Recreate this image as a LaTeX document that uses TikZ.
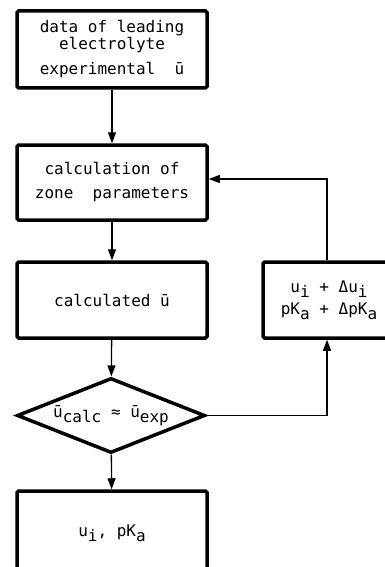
\documentclass[tikz,border=0pt]{standalone}
\usepackage{fontspec}
\setmonofont{DejaVu Sans Mono}
\usetikzlibrary{shapes.geometric,arrows.meta}
\newcommand\lowr[1]{\raisebox{-0.55ex}{#1}}
\tikzset{
  box/.style={draw, line width=3.5pt, rounded corners=1.5pt, minimum width=190pt,
    align=center, inner sep=0pt, font=\ttfamily\fontsize{16}{17}\selectfont},
  dec/.style={draw, diamond, line width=3.5pt, minimum width=188pt, minimum height=75pt,
    aspect=2.5, inner sep=0pt, align=center, font=\ttfamily\fontsize{16}{17}\selectfont},
  conn/.style={line width=1.3pt},
  arr/.style={conn, -{Triangle[length=11pt,width=8pt]}},
}
\begin{document}
\begin{tikzpicture}[x=1pt,y=-1pt]
\useasboundingbox (0,0) rectangle (384,567);
\node[box, minimum height=77pt] (b1) at (112,49.5)
  {data of leading\\electrolyte\\[8pt]experimental~~ū};
\node[box, minimum height=75pt] (b2) at (112,182.5)
  {calculation of\\[7pt]zone~~parameters};
\node[box, minimum height=76pt] (b3) at (112,300)
  {calculated ū};
\node[box, minimum width=132pt, minimum height=76pt] (rb) at (329,300)
  {u\lowr{i} + Δu\lowr{i}\\[5pt]pK\lowr{a} + ΔpK\lowr{a}};
\node[dec] (dia) at (111,415.5)
  {ū\lowr{calc} ≈ ū\lowr{exp}};
\node[box, minimum height=84pt] (b5) at (112,533)
  {u\lowr{i}, pK\lowr{a}};
\draw[arr] (b1) -- (b2);
\draw[arr] (b2) -- (b3);
\draw[arr] (b3) -- (dia);
\draw[arr] (dia) -- (b5);
\draw[arr] (dia.east) -| ([xshift=-2pt]rb.south);
\draw[arr] ([xshift=-2pt]rb.north) |- ([yshift=3.5pt]b2.east);
\end{tikzpicture}
\end{document}
